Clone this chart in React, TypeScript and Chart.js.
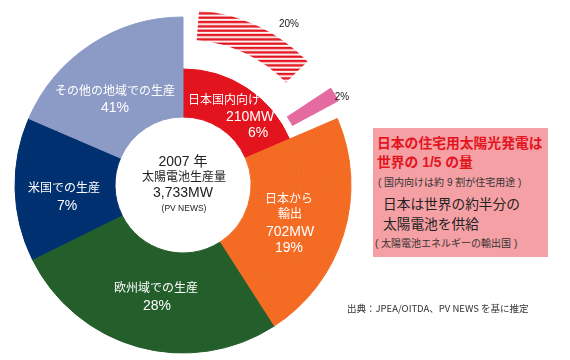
import React, { useEffect, useRef } from "react";
import { Chart, registerables } from "chart.js";

Chart.register(...registerables);

// ---- data ----
// main ring slices (clockwise from 12 o'clock); drawn share in degrees as pictured
const categories = ["日本国内向け", "日本から輸出", "欧州域での生産", "米国での生産", "その他の地域での生産"];
const sliceDegrees = [66.7, 80.6, 96.4, 49.6, 66.7];
const slicePercents = ["6%", "19%", "28%", "7%", "41%"];
const sliceMW = ["210MW", "702MW", "", "", ""];
const sliceColors = ["#E3141E", "#F46B24", "#235E2B", "#00306F", "#8C9BC6"];

// exploded outer pieces inside the Japan-domestic span: gap, residential share, gap, other share, gap
const japanSubDegrees = [4.5, 41.5, 10.5, 5.3, 4.9];
const japanSubLabels = ["", "20%", "", "2%", ""];
const pinkColor = "#E46A9F";

const centerLines = ["2007 年", "太陽電池生産量", "3,733MW", "(PV NEWS)"];

const FONT = '"Liberation Sans", "Noto Sans CJK JP", sans-serif';
const FONT_CJK = '"Noto Sans CJK JP", "Noto Sans", sans-serif';

export default function App() {
  const canvasRef = useRef<HTMLCanvasElement | null>(null);

  useEffect(() => {
    const canvas = canvasRef.current;
    if (!canvas) return;

    // horizontal hatch pattern
    const pc = document.createElement("canvas");
    pc.width = 8;
    pc.height = 13;
    const pctx = pc.getContext("2d")!;
    pctx.fillStyle = "#ffffff";
    pctx.fillRect(0, 0, 8, 13);
    pctx.fillStyle = "#E3141E";
    for (let i = 0; i < 3; i++) pctx.fillRect(0, i * 4.333, 8, 2.4);
    const hatch = canvas.getContext("2d")!.createPattern(pc, "repeat")!;

    const T = "rgba(0,0,0,0)";
    const outerData = [...japanSubDegrees, ...sliceDegrees.slice(1)];
    const ringA_bg = [T, hatch, T, pinkColor, T, ...sliceColors.slice(1)];
    const ringB_bg = [T, T, T, pinkColor, T, ...sliceColors.slice(1)];
    const ringA_border = [T, T, T, pinkColor, T, ...sliceColors.slice(1)];
    const ringB_border = ringB_bg;
    const ringA_bw = [0, 0, 0, 1, 0, 1, 1, 1, 1];
    const ringB_bw = [0, 0, 0, 1, 0, 1, 1, 1, 1];
    const offsets = [0, 23, 0, 18, 0, 0, 0, 0, 0];

    const labelPlugin = {
      id: "sliceLabels",
      afterDatasetsDraw(chart: any) {
        const ctx = chart.ctx as CanvasRenderingContext2D;
        const arc = chart.getDatasetMeta(2).data[0];
        const cx = arc.x;
        const cy = arc.y;
        const put = (t: string, dx: number, dy: number, size: number, color: string) => {
          if (!t) return;
          ctx.font = `${size}px ${FONT}`;
          ctx.fillStyle = color;
          ctx.textAlign = "center";
          ctx.textBaseline = "middle";
          ctx.fillText(t, cx + dx, cy + dy);
        };
        ctx.save();
        const W = "#ffffff";
        // Japan domestic
        put(categories[0], 41, -84, 12, W);
        put(sliceMW[0], 67, -68, 14, W);
        put(slicePercents[0], 75, -52, 14, W);
        // export
        put("日本から", 106, 15, 12, W);
        put("輸出", 107, 30, 12, W);
        put(sliceMW[1], 107, 47, 14, W);
        put(slicePercents[1], 106, 63, 14, W);
        // Europe
        put(categories[2], -27, 104, 12, W);
        put(slicePercents[2], -26, 121, 14, W);
        // US
        put(categories[3], -119, 4, 12, W);
        put(slicePercents[3], -116, 21, 14, W);
        // others
        put(categories[4], -68, -93, 12, W);
        put(slicePercents[4], -68, -77, 14, W);
        // center
        const D = "#222222";
        put(centerLines[0], 0, -23, 14, D);
        put(centerLines[1], 1, -7, 12, D);
        put(centerLines[2], 0, 8, 14, D);
        put(centerLines[3], 1, 24, 8.5, D);
        // exploded pieces
        put(japanSubLabels[1], 106, -161, 10, D);
        put(japanSubLabels[3], 159, -88, 10, D);
        ctx.restore();
      },
    };

    const chart = new Chart(canvas, {
      type: "doughnut",
      data: {
        labels: [...japanSubLabels, ...categories.slice(1)],
        datasets: [
          {
            data: outerData,
            backgroundColor: ringA_bg as any,
            borderColor: ringA_border,
            borderWidth: ringA_bw,
            offset: offsets,
            weight: 30,
          },
          {
            data: outerData,
            backgroundColor: ringB_bg,
            borderColor: ringB_border,
            borderWidth: ringB_bw,
            offset: offsets,
            weight: 22,
          },
          {
            data: sliceDegrees,
            backgroundColor: sliceColors,
            borderColor: sliceColors,
            borderWidth: 1,
            weight: 48,
          },
        ],
      } as any,
      options: {
        responsive: false,
        animation: false,
        events: [],
        radius: 168,
        cutout: "40.48%",
        rotation: 0,
        layout: { padding: { left: 0, right: 204, top: 10, bottom: 0 } },
        plugins: {
          legend: { display: false },
          tooltip: { enabled: false },
          title: { display: false },
        },
      } as any,
      plugins: [labelPlugin],
    });

    return () => chart.destroy();
  }, []);

  const boxLine = (
    text: string,
    left: number,
    top: number,
    size: number,
    color: string,
    weight: number,
    family: string = FONT
  ) => (
    <div
      style={{
        position: "absolute",
        left,
        top,
        fontSize: size,
        lineHeight: `${size}px`,
        color,
        fontWeight: weight,
        fontFamily: family,
        whiteSpace: "nowrap",
      }}
    >
      {text}
    </div>
  );

  return (
    <div
      style={{
        position: "absolute",
        left: 0,
        top: 0,
        width: 570,
        height: 360,
        background: "#ffffff",
        overflow: "hidden",
      }}
    >
      <canvas
        ref={canvasRef}
        width={570}
        height={360}
        style={{ position: "absolute", left: 0, top: 0, width: 570, height: 360 }}
      />
      <div
        style={{
          position: "absolute",
          left: 373,
          top: 128,
          width: 175,
          height: 129,
          background: "#F5A0A4",
        }}
      />
      {boxLine("日本の住宅用太陽光発電は", 377, 137, 13.8, "#E3141E", 700)}
      {boxLine("世界の 1/5 の量", 377, 156, 13.8, "#E3141E", 700)}
      {boxLine("( 国内向けは約 9 割が住宅用途 )", 378, 178, 10, "#333333", 400)}
      {boxLine("日本は世界の約半分の", 383, 198, 13.7, "#222222", 400)}
      {boxLine("太陽電池を供給", 383, 218, 13.7, "#222222", 400)}
      {boxLine("( 太陽電池エネルギーの輸出国 )", 375, 239, 10, "#333333", 400)}
      {boxLine("出典：JPEA/OITDA、PV NEWS を基に推定", 347, 304, 9.5, "#333333", 400, FONT_CJK)}
    </div>
  );
}
